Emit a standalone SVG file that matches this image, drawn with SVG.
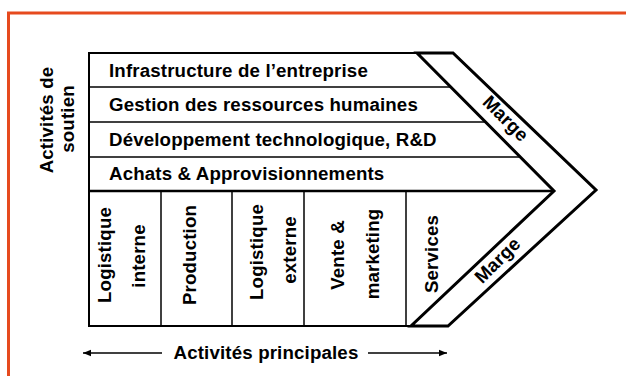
<svg xmlns="http://www.w3.org/2000/svg" width="626" height="376" viewBox="0 0 626 376">
<defs>
<style>
.t{font-family:"Liberation Sans",Arial,sans-serif;font-weight:bold;font-size:18.7px;letter-spacing:0.15px;fill:#000}
.c{text-anchor:middle}
.ln{stroke:#000;stroke-width:1.5;fill:none}
.box{stroke:#000;stroke-width:2;fill:none}
.chev{stroke:#000;stroke-width:3;fill:none;stroke-linejoin:miter}
</style>
<marker id="ah" markerUnits="userSpaceOnUse" markerWidth="9" markerHeight="8" refX="8" refY="4" orient="auto">
<path d="M0,0.8 L8,4 L0,7.2 Z" fill="#000"/>
</marker>
</defs>
<rect width="626" height="376" fill="#fff"/>
<rect id="frame" x="8.5" y="13" width="700" height="500" fill="none" stroke="#e64a1e" stroke-width="3"/>

<g id="support-label">
<text class="t c" transform="translate(53,120) rotate(-90)">Activités de</text>
<text class="t c" transform="translate(74,119) rotate(-90)">soutien</text>
</g>

<g id="frame-box">
<path class="box" d="M417,53 H89 V326 H411"/>
</g>

<g id="infrastructure">
<line class="ln" x1="89" y1="87" x2="451" y2="87"/>
<text class="t" x="109" y="77">Infrastructure de l’entreprise</text>
</g>
<g id="grh">
<line class="ln" x1="89" y1="122" x2="486" y2="122"/>
<text class="t" x="109" y="111">Gestion des ressources humaines</text>
</g>
<g id="rd">
<line class="ln" x1="89" y1="157" x2="521" y2="157"/>
<text class="t" x="109" y="145.5">Développement technologique, R&amp;D</text>
</g>
<g id="achats">
<line x1="89" y1="191" x2="554" y2="191" stroke="#000" stroke-width="2.5"/>
<text class="t" x="109" y="180">Achats &amp; Approvisionnements</text>
</g>

<g id="logistique-interne">
<text class="t c" transform="translate(111,255) rotate(-90)">Logistique</text>
<text class="t c" transform="translate(145,256) rotate(-90)">interne</text>
</g>
<g id="production">
<line class="ln" x1="161" y1="191" x2="161" y2="326"/>
<text class="t c" transform="translate(196,255) rotate(-90)">Production</text>
</g>
<g id="logistique-externe">
<line class="ln" x1="232" y1="191" x2="232" y2="326"/>
<text class="t c" transform="translate(263,252) rotate(-90)">Logistique</text>
<text class="t c" transform="translate(296,250) rotate(-90)">externe</text>
</g>
<g id="vente-marketing">
<line class="ln" x1="304" y1="191" x2="304" y2="326"/>
<text class="t c" transform="translate(344,255) rotate(-90)">Vente &amp;</text>
<text class="t c" transform="translate(379,254) rotate(-90)">marketing</text>
</g>
<g id="services">
<line class="ln" x1="406" y1="191" x2="406" y2="326"/>
<text class="t c" transform="translate(438,254) rotate(-90)">Services</text>
</g>

<g id="marge">
<path class="chev" d="M417,53 H453 L596,190 L448,326 H411 L554,191 Z"/>
<text class="t c" transform="translate(505,119) rotate(45)" y="5.5">Marge</text>
<text class="t c" transform="translate(498,261) rotate(-45)" y="5.5">Marge</text>
</g>

<g id="connectors">
<line class="ln" x1="162" y1="353" x2="83" y2="353" marker-end="url(#ah)"/>
<line class="ln" x1="368" y1="353" x2="447" y2="353" marker-end="url(#ah)"/>
</g>
<g id="primary-label">
<text class="t c" x="266" y="359">Activités principales</text>
</g>
</svg>
